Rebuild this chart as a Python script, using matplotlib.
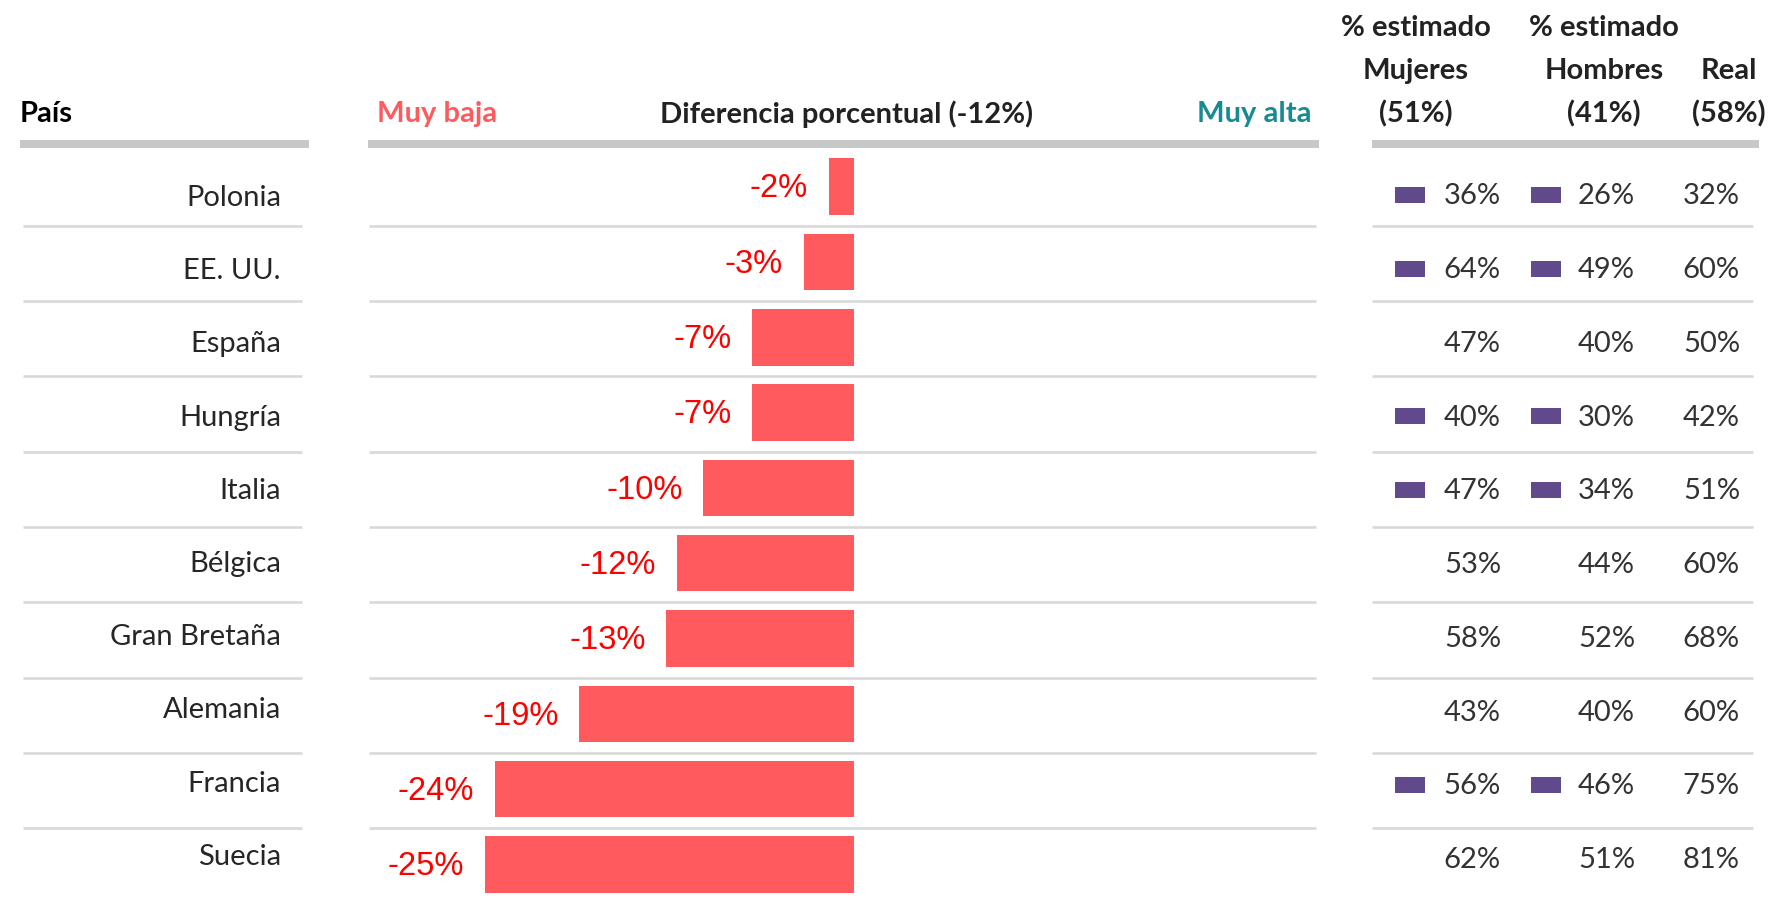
import numpy as np
import matplotlib
matplotlib.use("Agg")
import matplotlib.pyplot as plt

# datos
paises = ["Polonia", "EE. UU.", "España", "Hungría", "Italia", "Bélgica",
          "Gran Bretaña", "Alemania", "Francia", "Suecia"]
diferencia = [-1.7, -3.4, -6.9, -6.9, -10.2, -12.0, -12.7, -18.6, -24.3, -25.0]
etiquetas_dif = ["-2%", "-3%", "-7%", "-7%", "-10%", "-12%", "-13%", "-19%", "-24%", "-25%"]
est_mujeres = [36, 64, 47, 40, 47, 53, 58, 43, 56, 62]
est_hombres = [26, 49, 40, 30, 34, 44, 52, 40, 46, 51]
real = [32, 60, 50, 42, 51, 60, 68, 60, 75, 81]
marcado = [True, True, False, True, True, False, False, False, True, False]

ROJO = "#ff5b5f"
ROJO_TXT = "#ff0000"
TEAL = "#178a92"
MORADO = "#604a8c"
GRIS_CAB = "#c8c8c8"
GRIS_SEP = "#d9d9d9"

W, H = 1774, 898
ROW0, PASO = 186.7, 75.3  # centro de la primera fila y separacion en pixeles


def fila(ypx):
    # pixel vertical -> coordenada de fila
    return (ypx - ROW0) / PASO


ylim = (fila(H), fila(0))
filas = np.arange(len(paises))

fig = plt.figure(figsize=(W / 100, H / 100), dpi=100)
ax = fig.add_axes([0, 0, 1, 1])
ax.set_xlim(0, W)
ax.set_ylim(*ylim)
ax.axis("off")

axb = fig.add_axes([368 / W, 0, (1319 - 368) / W, 1])
axb.set_xlim(-32.9, 31.5)
axb.set_ylim(*ylim)
axb.axis("off")
axb.patch.set_alpha(0)

# barras de cabecera
ax.hlines([fila(144)] * 3, [20, 368, 1372], [309, 1319, 1759], color=GRIS_CAB, lw=5.8)

# separadores de filas
sep = filas[:-1] + 0.52
for x0, x1 in [(23, 302), (369, 1316), (1372, 1753)]:
    ax.hlines(sep, x0, x1, color=GRIS_SEP, lw=1.9)

# cabeceras
cab = dict(fontsize=21, family="Lato", weight="bold", va="center")
ax.text(20, fila(114), "País", ha="left", color="black", **cab)
ax.text(377, fila(114), "Muy baja", ha="left", color=ROJO, **cab)
ax.text(847, fila(114), "Diferencia porcentual (-12%)", ha="center", color="#222222", **cab)
ax.text(1312, fila(114), "Muy alta", ha="right", color=TEAL, **cab)
for xc, lineas in [(1416, ["% estimado", "Mujeres", "(51%)"]),
                   (1604, ["% estimado", "Hombres", "(41%)"]),
                   (1729, ["", "Real", "(58%)"])]:
    for yp, t in zip([28, 71, 114], lineas):
        ax.text(xc, fila(yp), t, ha="center", color="#222222", **cab)

# nombres de paises
y_pais = filas * 0.972 + 0.15
for y, p in zip(y_pais, paises):
    ax.text(281, y, p, ha="right", va="center", fontsize=21, family="Lato", color="#262626")

# barras de diferencia
axb.barh(filas, diferencia, height=0.75, color=ROJO)
for y, d, t in zip(filas, diferencia, etiquetas_dif):
    axb.text(d - 1.4, y + 0.03, t, ha="right", va="center", fontsize=23.5,
             family="Liberation Sans", color=ROJO_TXT)

# tabla de la derecha
m = np.array(marcado)
y_val = filas * 0.979 + 0.13
ax.barh(y_val[m] - 0.02, 30, left=1395, height=16 / PASO, color=MORADO)
ax.barh(y_val[m] - 0.02, 30, left=1531, height=16 / PASO, color=MORADO)
for xr, vals in [(1501, est_mujeres), (1635, est_hombres), (1740, real)]:
    for y, v in zip(y_val, vals):
        ax.text(xr, y, f"{v}%", ha="right", va="center", fontsize=21,
                family="Lato", color="#333333")

fig.savefig("out.png", dpi=100)
